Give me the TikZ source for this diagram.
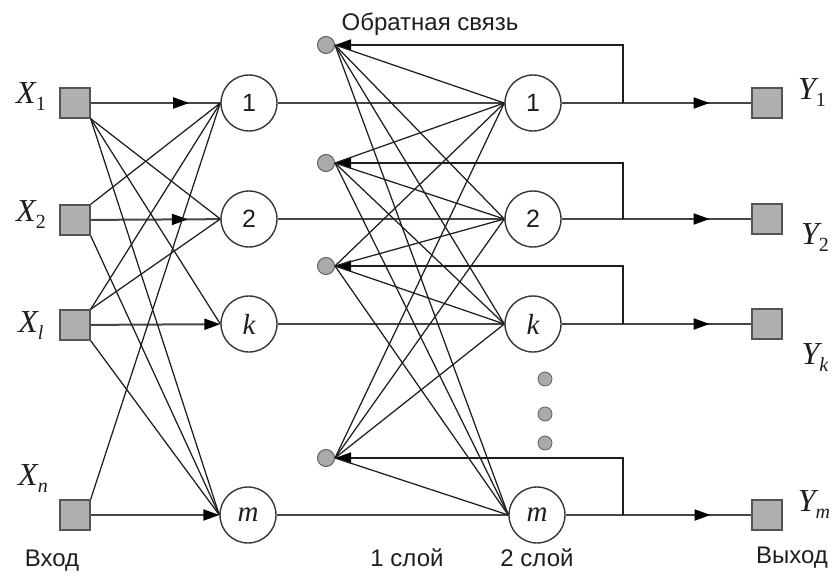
\documentclass[tikz,border=0pt]{standalone}
\usepackage{fontspec}
\setmainfont{Liberation Serif}
\newfontfamily\sansf{Liberation Sans}
\usetikzlibrary{arrows.meta,decorations.markings}
\definecolor{sqfill}{RGB}{176,176,176}
\definecolor{sqdraw}{RGB}{85,85,85}
\definecolor{fbfill}{RGB}{170,170,170}
\definecolor{fbdraw}{RGB}{95,95,95}
\definecolor{cdraw}{RGB}{55,55,55}
\definecolor{hcol}{RGB}{70,70,70}
\definecolor{wcol}{RGB}{30,30,30}
\definecolor{tcol}{RGB}{30,30,30}
\newcommand\xlab[2]{{\fontsize{32}{32}\selectfont\itshape #1}\raisebox{-7pt}{\fontsize{20}{20}\selectfont #2}}
\tikzset{
  sq/.style={draw=sqdraw, fill=sqfill, line width=1.3pt, minimum size=30pt, inner sep=0pt},
  neur/.style={circle, draw=cdraw, fill=white, line width=1.4pt, minimum size=56pt, inner sep=0pt, text=tcol},
  fbc/.style={circle, draw=fbdraw, fill=fbfill, line width=1pt, minimum size=17pt, inner sep=0pt},
  dotc/.style={circle, draw=fbdraw, fill=fbfill, line width=0.8pt, minimum size=14pt, inner sep=0pt},
  hline/.style={draw=hcol, line width=2pt},
  fbline/.style={draw=wcol, line width=1.5pt},
  wire/.style={draw=wcol, line width=1.25pt},
  tip/.style={-{Triangle[length=16pt,width=11pt,color=black]}},
  midarr/.style={postaction={decorate}, decoration={markings, mark=at position #1 with {\arrow{Triangle[length=16pt,width=11pt,color=black]}}}},
  sanslab/.style={font=\sansf\fontsize{24}{24}\selectfont, text=tcol, inner sep=0pt},
  numlab/.style={font=\sansf\fontsize{25}{25}\selectfont},
  itlab/.style={font=\fontsize{29}{29}\selectfont\itshape},
  mlab/.style={text=tcol, inner sep=0pt},
}
\begin{document}
\begin{tikzpicture}[x=1pt,y=-1pt]
\useasboundingbox (0,0) rectangle (835,575);
% input squares
\node[sq] (X1) at (75,103) {};
\node[sq] (X2) at (75,220) {};
\node[sq] (Xl) at (75,325) {};
\node[sq] (Xn) at (75,515) {};
% layer 1
\node[neur, numlab] (h1) at (249,103) {1};
\node[neur, numlab] (h2) at (249,219) {2};
\node[neur, itlab] (hk) at (249,324) {k};
\node[neur, itlab] (hm) at (248,515) {m};
% layer 2
\node[neur, numlab] (o1) at (533,103) {1};
\node[neur, numlab] (o2) at (533,219) {2};
\node[neur, itlab] (ok) at (533,324) {k};
\node[neur, itlab] (om) at (537,515) {m};
% feedback units
\node[fbc] (f1) at (326,45) {};
\node[fbc] (f2) at (326,163) {};
\node[fbc] (f3) at (326,266) {};
\node[fbc] (f4) at (326,458) {};
% dots
\node[dotc] (d1) at (545,379) {};
\node[dotc] (d2) at (545,414) {};
\node[dotc] (d3) at (545,443) {};
% output squares
\node[sq] (Y1) at (767,103) {};
\node[sq] (Y2) at (767,219) {};
\node[sq] (Yk) at (767,324) {};
\node[sq] (Ym) at (767,515) {};
% junctions
\coordinate (j1) at (623,103);
\coordinate (j2) at (623,219);
\coordinate (jk) at (623,324);
\coordinate (jm) at (623,515);
% input arrows
\draw[hline, midarr=0.76] (X1) -- (h1);
\draw[hline, midarr=0.75] (X2) -- (h2);
\draw[hline, tip] (Xl) -- (hk);
\draw[hline, tip] (Xn) -- (hm);
% input cross wires
\draw[wire] (X1.south east) -- (h2.west);
\draw[wire] (X1.south east) -- (hk.west);
\draw[wire] (X1.south east) -- (hm.west);
\draw[wire] (X2.north east) -- (h1.west);
\draw[wire] (X2.south east) -- (hm.west);
\draw[wire] (Xl.north east) -- (h1.west);
\draw[wire] (Xl.north east) -- (h2.west);
\draw[wire] (Xl.south east) -- (hm.west);
\draw[wire] (Xn.north east) -- (h1.west);
% layer 1 -> layer 2
\draw[hline] (h1) -- (o1);
\draw[hline] (h2) -- (o2);
\draw[hline] (hk) -- (ok);
\draw[hline] (hm) -- (om);
% outputs
\draw[hline, midarr=0.78] (o1) -- (Y1);
\draw[hline, midarr=0.78] (o2) -- (Y2);
\draw[hline, midarr=0.78] (ok) -- (Yk);
\draw[hline, midarr=0.78] (om) -- (Ym);
% feedback
\draw[fbline, tip] (j1) |- (f1);
\draw[fbline, tip] (j2) |- (f2);
\draw[fbline, tip] (jk) |- (f3);
\draw[fbline, tip] (jm) |- (f4);
% feedback fan
\foreach \f in {f1,f2,f3,f4}{
  \foreach \t in {o1,o2,ok,om}{
    \draw[wire] (\f.east) -- (\t.west);
  }
}
% labels
\node[mlab] (lx1) at (31,97) {\xlab{X}{1}};
\node[mlab] (lx2) at (31,215) {\xlab{X}{2}};
\node[mlab] (lxl) at (31,326) {\xlab{X}{\itshape l}};
\node[mlab] (lxn) at (33,479) {\xlab{X}{\itshape n}};
\node[mlab] (ly1) at (812,93) {\xlab{Y}{1}};
\node[mlab] (ly2) at (815,238) {\xlab{Y}{2}};
\node[mlab] (lyk) at (815,358) {\xlab{Y}{\itshape k}};
\node[mlab] (lym) at (814,505) {\xlab{Y}{\itshape m}};
\node[sanslab] (tfb) at (430,24) {Обратная связь};
\node[sanslab] (tin) at (52,561) {Вход};
\node[sanslab] (tl1) at (407,558) {1 слой};
\node[sanslab] (tl2) at (537,558) {2 слой};
\node[sanslab] (tout) at (792,558) {Выход};
\end{tikzpicture}
\end{document}
